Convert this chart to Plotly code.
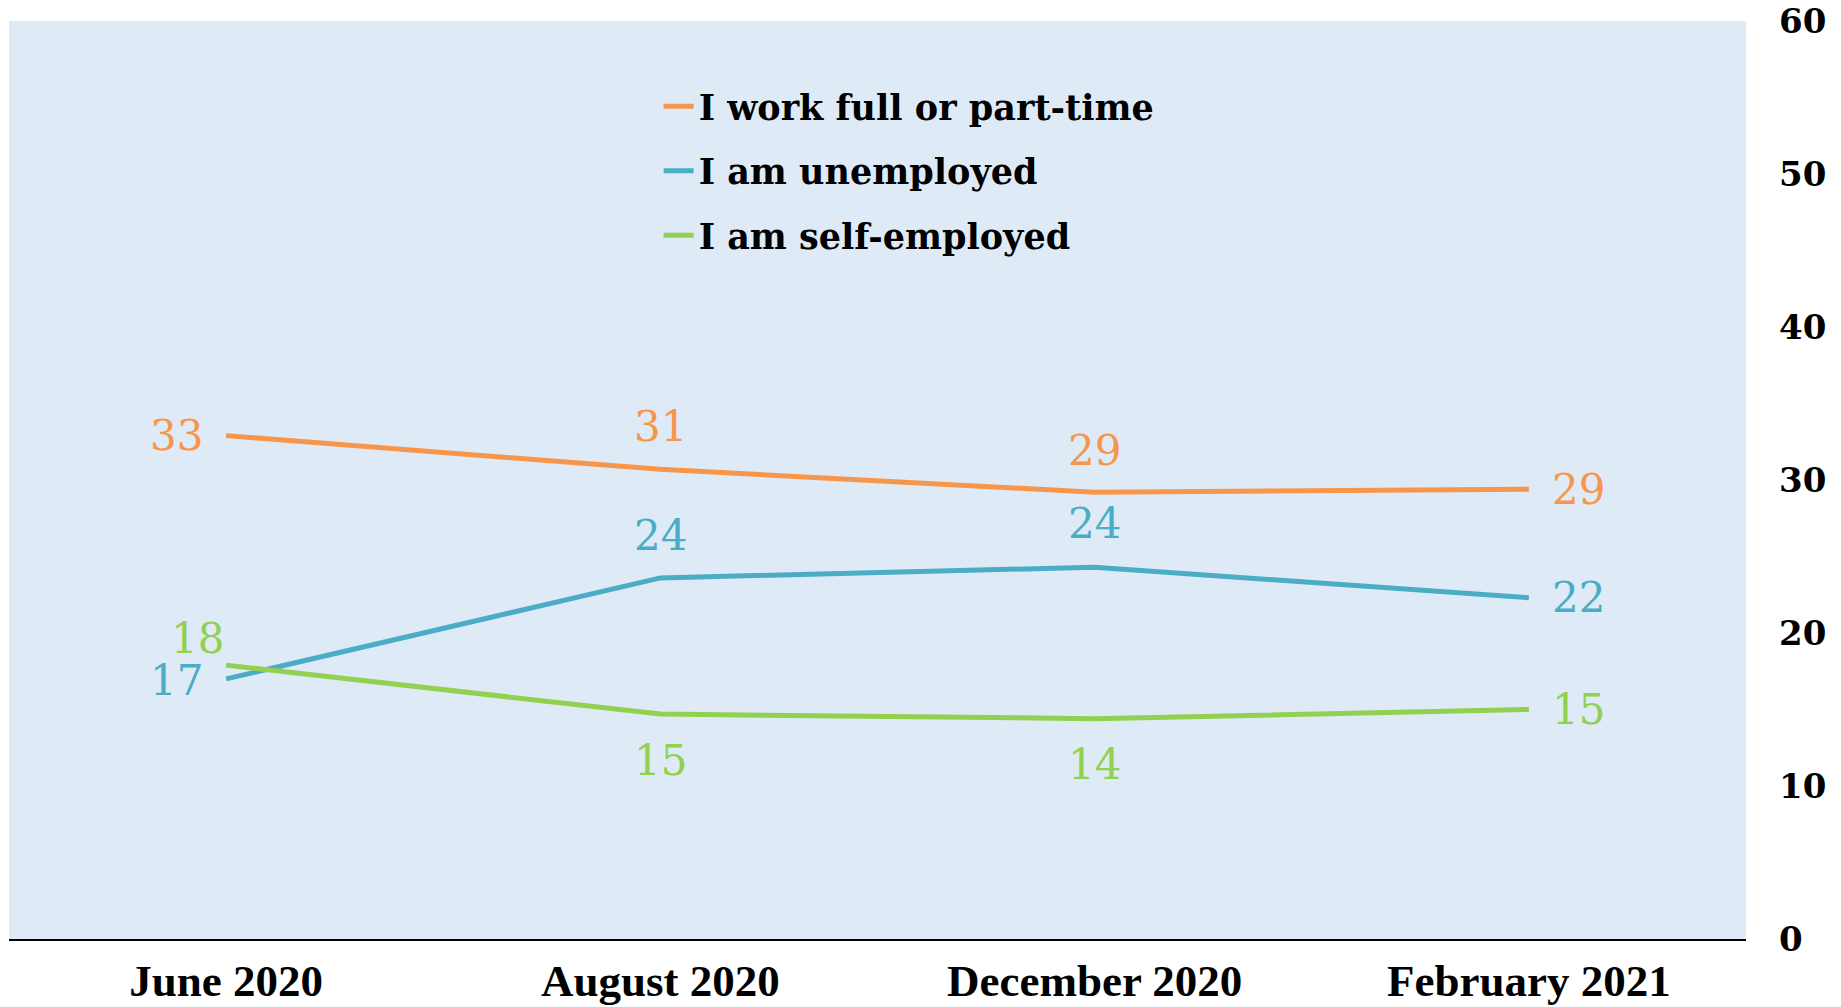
import plotly.graph_objects as go

categories = ["June 2020", "August 2020", "December 2020", "February 2021"]
full_part_time = [32.9, 30.7, 29.2, 29.4]
unemployed = [17.0, 23.6, 24.3, 22.3]
self_employed = [17.9, 14.7, 14.4, 15.0]
label_full = ["33", "31", "29", "29"]
label_unemp = ["17", "24", "24", "22"]
label_self = ["18", "15", "14", "15"]
series_names = ["I work full or part-time", "I am unemployed", "I am self-employed"]
y_ticks = [0, 10, 20, 30, 40, 50, 60]

colors = ["#F7964A", "#4BACC6", "#92D050"]
series = [full_part_time, unemployed, self_employed]
labels = [label_full, label_unemp, label_self]

# label offsets (xshift, yshift) in px per series/point
offsets = [
    [(-50, 0), (0, 43), (0, 42), (50, 0)],
    [(-50, -2), (0, 42), (0, 44), (50, 0)],
    [(-29, 27), (0, -46), (0, -46), (50, 0)],
]

fig = go.Figure()
for i, (name, vals, col) in enumerate(zip(series_names, series, colors)):
    fig.add_trace(go.Scatter(
        x=categories, y=vals, mode="lines", name=name,
        line=dict(color=col, width=5),
        legendgroup=f"g{i}",
    ))
    for j, (c, v, t) in enumerate(zip(categories, vals, labels[i])):
        dx, dy = offsets[i][j]
        fig.add_annotation(
            x=c, y=v, text=t, showarrow=False,
            xshift=dx, yshift=dy,
            font=dict(family="DejaVu Serif", size=42, color=col),
        )

fig.update_layout(
    width=1841, height=1007,
    margin=dict(l=9, r=95, t=21, b=68),
    paper_bgcolor="white",
    plot_bgcolor="#DEEAF6",
    legend=dict(
        x=0.374, xanchor="left", y=0.939, yanchor="top",
        bgcolor="rgba(0,0,0,0)",
        font=dict(family="DejaVu Serif", size=35, color="black", weight="bold"),
        traceorder="grouped", tracegroupgap=16,
    ),
    showlegend=True,
)
fig.update_xaxes(
    range=[-0.5, 3.5], automargin=False,
    showgrid=False, showline=True, linecolor="black", linewidth=2,
    tickfont=dict(family="Liberation Serif", size=45, color="black", weight="bold"),
    ticks="", ticklabelstandoff=1, zeroline=False,
)
fig.update_yaxes(
    range=[0, 60], tickvals=y_ticks, side="right", showgrid=False,
    automargin=False, ticklabeloverflow="allow",
    zeroline=False, showline=False, ticks="",
    tickfont=dict(family="DejaVu Serif", size=34, color="black", weight="bold"),
    ticklabelstandoff=32,
)

# remove the default page margin so the figure fills the window exactly
fig.write_html(
    "out.html",
    config={"displayModeBar": False},
    post_script="document.body.style.margin='0';document.body.style.overflow='hidden';",
)
